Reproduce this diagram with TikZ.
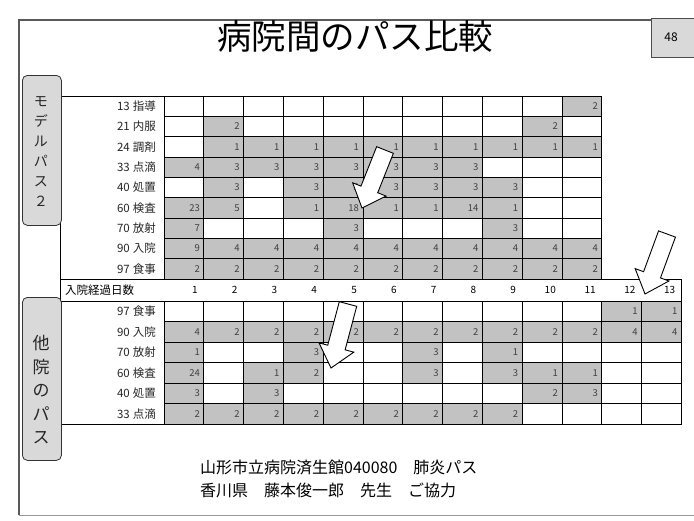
\documentclass[tikz,border=0pt]{standalone}
\usepackage{fontspec}
\setmainfont{Noto Sans CJK JP}
\usetikzlibrary{calc}
\definecolor{cellgray}{gray}{0.76}
\definecolor{tabgray}{gray}{0.85}
\definecolor{framegray}{gray}{0.35}
\tikzset{
  cellbase/.style={draw=black, line width=0.8pt, minimum width=39.8pt, inner ysep=0pt,
    inner xsep=4pt, text width=31.8pt, align=right, font=\fontsize{9.5}{9.5}\selectfont,
    text=black!75},
  wcell/.style={cellbase, fill=white},
  gcell/.style={cellbase, fill=cellgray},
  rowlab/.style={anchor=east, inner sep=0pt, font=\fontsize{11.5}{11.5}\selectfont, text=black!85},
  daynum/.style={anchor=east, inner sep=0pt, font=\fontsize{10}{10}\selectfont},
  tabbox/.style={draw=black!80, line width=0.8pt, fill=tabgray, rounded corners=5pt,
    anchor=north west, inner sep=0pt},
  framelines/.style={draw=framegray, line width=1.3pt},
  boxlines/.style={draw=black, line width=0.8pt},
  arrowbox/.style={draw=black, line width=0.9pt, fill=white, line join=miter},
}
\newcommand\crow[4]{%
  \foreach \v [count=\c] in {#4} {%
    \ifnum\v=0
      \node[wcell, minimum height=#3] (#1-\c) at ({164+39.8*(\c-0.5)},#2) {};
    \else
      \node[gcell, minimum height=#3] (#1-\c) at ({164+39.8*(\c-0.5)},#2) {\v};
    \fi}}
\newcommand\blockarr[2]{%
  \coordinate (ba-b) at ($(#1)!0.68!(#2)$);
  \draw[arrowbox] ($(#1)!9pt!90:(#2)$) -- ($(ba-b)!9pt!90:(#2)$) -- ($(ba-b)!18pt!90:(#2)$)
    -- (#2) -- ($(ba-b)!18pt!-90:(#2)$) -- ($(ba-b)!9pt!-90:(#2)$) -- ($(#1)!9pt!-90:(#2)$) -- cycle;}
\begin{document}
\begin{tikzpicture}[x=1pt, y=-1pt]
\useasboundingbox (0,0) rectangle (694,520);
\fill[white] (0,0) rectangle (694,520);

% outer frame
\coordinate (f-tl) at (19,20);
\coordinate (f-tr) at (651,20);
\coordinate (f-bl) at (19,515);
\coordinate (f-br) at (694,515);
\draw[framelines] (f-tr) -- (f-tl) -- (f-bl);
\draw[draw=black!40, line width=1pt] (f-bl) -- (f-br);

% title and page number
\node (title) at (355,36) {\fontsize{34.5}{34.5}\selectfont 病院間のパス比較};
\node[draw=black!70, fill=tabgray, anchor=north west, minimum width=50pt, minimum height=39pt, inner sep=0pt] (pg) at (651,18) {};
\node (pgn) at (671,37) {\fontsize{12}{12}\selectfont 48};

% table box lines
\coordinate (b-tl) at (60,96);
\coordinate (b-tr) at (601,96);
\coordinate (b-bl) at (60,424.5);
\coordinate (b-br) at (681.4,424.5);
\coordinate (b-rt) at (681.4,301);
\draw[boxlines] (b-tr) -- (b-tl) -- (b-bl) -- (b-br) -- (b-rt);

% upper table (model path 2)
\crow{u1}{106.2}{20.35pt}{0,0,0,0,0,0,0,0,0,0,2}
\crow{u2}{126.5}{20.35pt}{0,2,0,0,0,0,0,0,0,2,0}
\crow{u3}{146.9}{20.35pt}{0,1,1,1,1,1,1,1,1,1,1}
\crow{u4}{167.2}{20.35pt}{4,3,3,3,3,3,3,3,0,0,0}
\crow{u5}{187.6}{20.35pt}{0,3,0,3,3,3,3,3,3,0,0}
\crow{u6}{207.9}{20.35pt}{23,5,0,1,18,1,1,14,1,0,0}
\crow{u7}{228.2}{20.35pt}{7,0,0,0,3,0,0,0,3,0,0}
\crow{u8}{248.6}{20.35pt}{9,4,4,4,4,4,4,4,4,4,4}
\crow{u9}{268.9}{20.35pt}{2,2,2,2,2,2,2,2,2,2,2}

\node[rowlab] (ul1) at (156,106.2) {13\hspace{3pt}指導};
\node[rowlab] (ul2) at (156,126.5) {21\hspace{3pt}内服};
\node[rowlab] (ul3) at (156,146.9) {24\hspace{3pt}調剤};
\node[rowlab] (ul4) at (156,167.2) {33\hspace{3pt}点滴};
\node[rowlab] (ul5) at (156,187.6) {40\hspace{3pt}処置};
\node[rowlab] (ul6) at (156,207.9) {60\hspace{3pt}検査};
\node[rowlab] (ul7) at (156,228.2) {70\hspace{3pt}放射};
\node[rowlab] (ul8) at (156,248.6) {90\hspace{3pt}入院};
\node[rowlab] (ul9) at (156,268.9) {97\hspace{3pt}食事};

% header row
\node[draw=black, line width=0.8pt, anchor=north west, minimum width=621.4pt, minimum height=21.8pt, inner sep=0pt] (hdr) at (60,279.2) {};
\node[anchor=west, inner sep=0pt, font=\fontsize{11.5}{11.5}\selectfont] (hdrlab) at (65,290.1) {入院経過日数};
\foreach \d in {1,...,13} {
  \node[daynum] (day\d) at ({164+39.8*\d-6},290.1) {\d};
}

% lower table (other hospital)
\crow{l1}{311.3}{20.5pt}{0,0,0,0,0,0,0,0,0,0,0,1,1}
\crow{l2}{331.8}{20.5pt}{4,2,2,2,2,2,2,2,2,2,2,4,4}
\crow{l3}{352.3}{20.5pt}{1,0,0,3,0,0,3,0,1,0,0,0,0}
\crow{l4}{372.8}{20.5pt}{24,0,1,2,0,0,3,0,3,1,1,0,0}
\crow{l5}{393.3}{20.5pt}{3,0,3,0,0,0,0,0,0,2,3,0,0}
\crow{l6}{413.8}{20.5pt}{2,2,2,2,2,2,2,2,2,0,0,0,0}

\node[rowlab] (ll1) at (156,311.3) {97\hspace{3pt}食事};
\node[rowlab] (ll2) at (156,331.8) {90\hspace{3pt}入院};
\node[rowlab] (ll3) at (156,352.3) {70\hspace{3pt}放射};
\node[rowlab] (ll4) at (156,372.8) {60\hspace{3pt}検査};
\node[rowlab] (ll5) at (156,393.3) {40\hspace{3pt}処置};
\node[rowlab] (ll6) at (156,413.8) {33\hspace{3pt}点滴};

% side tabs
\node[tabbox, minimum width=39pt, minimum height=150pt] (tab1) at (22,75) {};
\node[align=center, inner sep=0pt, font=\fontsize{14}{20}\selectfont, text=black!85] (tab1t) at (41,152) {モ\\デ\\ル\\パ\\ス\\２};
\node[tabbox, minimum width=39pt, minimum height=163pt] (tab2) at (22,297) {};
\node[align=center, inner sep=0pt, font=\fontsize{17}{23.5}\selectfont, text=black!85] (tab2t) at (41,390) {他\\院\\の\\パ\\ス};

% hollow block arrows
\coordinate (a1t) at (385,150);
\coordinate (a1h) at (362,208);
\coordinate (a2t) at (348,304);
\coordinate (a2h) at (331,368);
\coordinate (a3t) at (667,234);
\coordinate (a3h) at (645,294);
\blockarr{a1t}{a1h}
\blockarr{a2t}{a2h}
\blockarr{a3t}{a3h}

% footer
\node[anchor=west, inner sep=0pt, font=\fontsize{16}{16}\selectfont] (foot1) at (200,467) {山形市立病院済生館040080　肺炎パス};
\node[anchor=west, inner sep=0pt, font=\fontsize{16}{16}\selectfont] (foot2) at (200,490) {香川県　藤本俊一郎　先生　ご協力};
\end{tikzpicture}
\end{document}
